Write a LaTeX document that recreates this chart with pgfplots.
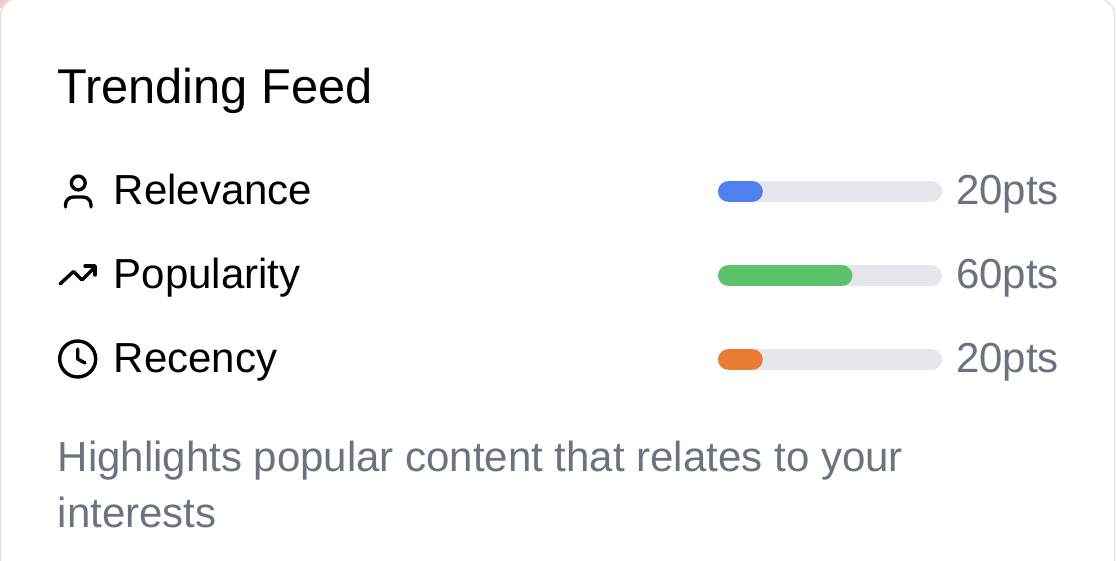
\documentclass[border=0pt]{standalone}
\usepackage{pgfplots}
\pgfplotsset{compat=1.18}
\usepackage{fontspec}
\setmainfont{Liberation Sans}
\definecolor{trackc}{HTML}{E5E7EB}
\definecolor{bluec}{HTML}{4F80EE}
\definecolor{greenc}{HTML}{5CC36A}
\definecolor{orangec}{HTML}{E97C35}
\definecolor{greyc}{HTML}{6B7280}
\begin{document}
\begin{tikzpicture}[x=1pt,y=-1pt]
\useasboundingbox (0,0) rectangle (1116,560);
\fill[white] (0,0) rectangle (1116,560);
\fill[red!22!white] (0,0) rectangle (8,8);
\fill[white,rounded corners=18pt] (0,-2) rectangle (1115.5,600);
\begin{scope}
\clip (-1,-1) rectangle (1117,560);
\draw[black!10,line width=1.6pt,rounded corners=18pt] (0.6,-2) rectangle (1114.6,600);
\end{scope}
\begin{axis}[
  at={(718pt,-149.5pt)}, anchor=north west,
  scale only axis, width=224pt, height=252pt,
  xmin=0, xmax=100, ymin=-0.5, ymax=2.5, y dir=reverse,
  hide axis, clip=false,
  xbar, bar width=20.7pt, bar shift=0pt,
  every axis plot/.append style={draw=none, rounded corners=10.35pt},
]
\addplot[fill=trackc] coordinates {(100,0) (100,1) (100,2)};
\addplot[fill=bluec] coordinates {(20,0)};
\addplot[fill=greenc] coordinates {(60,1)};
\addplot[fill=orangec] coordinates {(20,2)};
\end{axis}
\node[anchor=base west,inner sep=0,font=\fontsize{48.8}{48}\selectfont] at (57,103) {Trending Feed};
\foreach \y/\t/\v in {204.5/Relevance/20, 288.5/Popularity/60, 372.5/Recency/20}{
  \node[anchor=base west,inner sep=0,font=\fontsize{42}{42}\selectfont] at (113.5,\y) {\t};
  \node[anchor=base east,inner sep=0,text=greyc,font=\fontsize{42}{42}\selectfont] at (1059,\y) {\v pts};
}
\node[anchor=base west,inner sep=0,text=greyc,font=\fontsize{42}{42}\selectfont] at (57.5,471) {Highlights popular content that relates to your};
\node[anchor=base west,inner sep=0,text=greyc,font=\fontsize{42}{42}\selectfont] at (57.5,527) {interests};
% icons
\begin{scope}[line width=3.4pt,line cap=round,line join=round,black]
\draw (78.3,183) circle (6.9);
\draw (65.5,207) -- (65.5,205) .. controls (65.5,200.5) and (69,197) .. (73.5,197) -- (83,197) .. controls (87.5,197) and (91,200.5) .. (91,205) -- (91,207);
\draw (60,284) -- (73.5,271.5) -- (82,280) -- (95,267);
\draw (85,266) -- (95,266) -- (95,275);
\draw (77.7,359) circle (18);
\draw (77.7,349) -- (77.7,359) -- (85,363);
\end{scope}
\end{tikzpicture}
\end{document}
